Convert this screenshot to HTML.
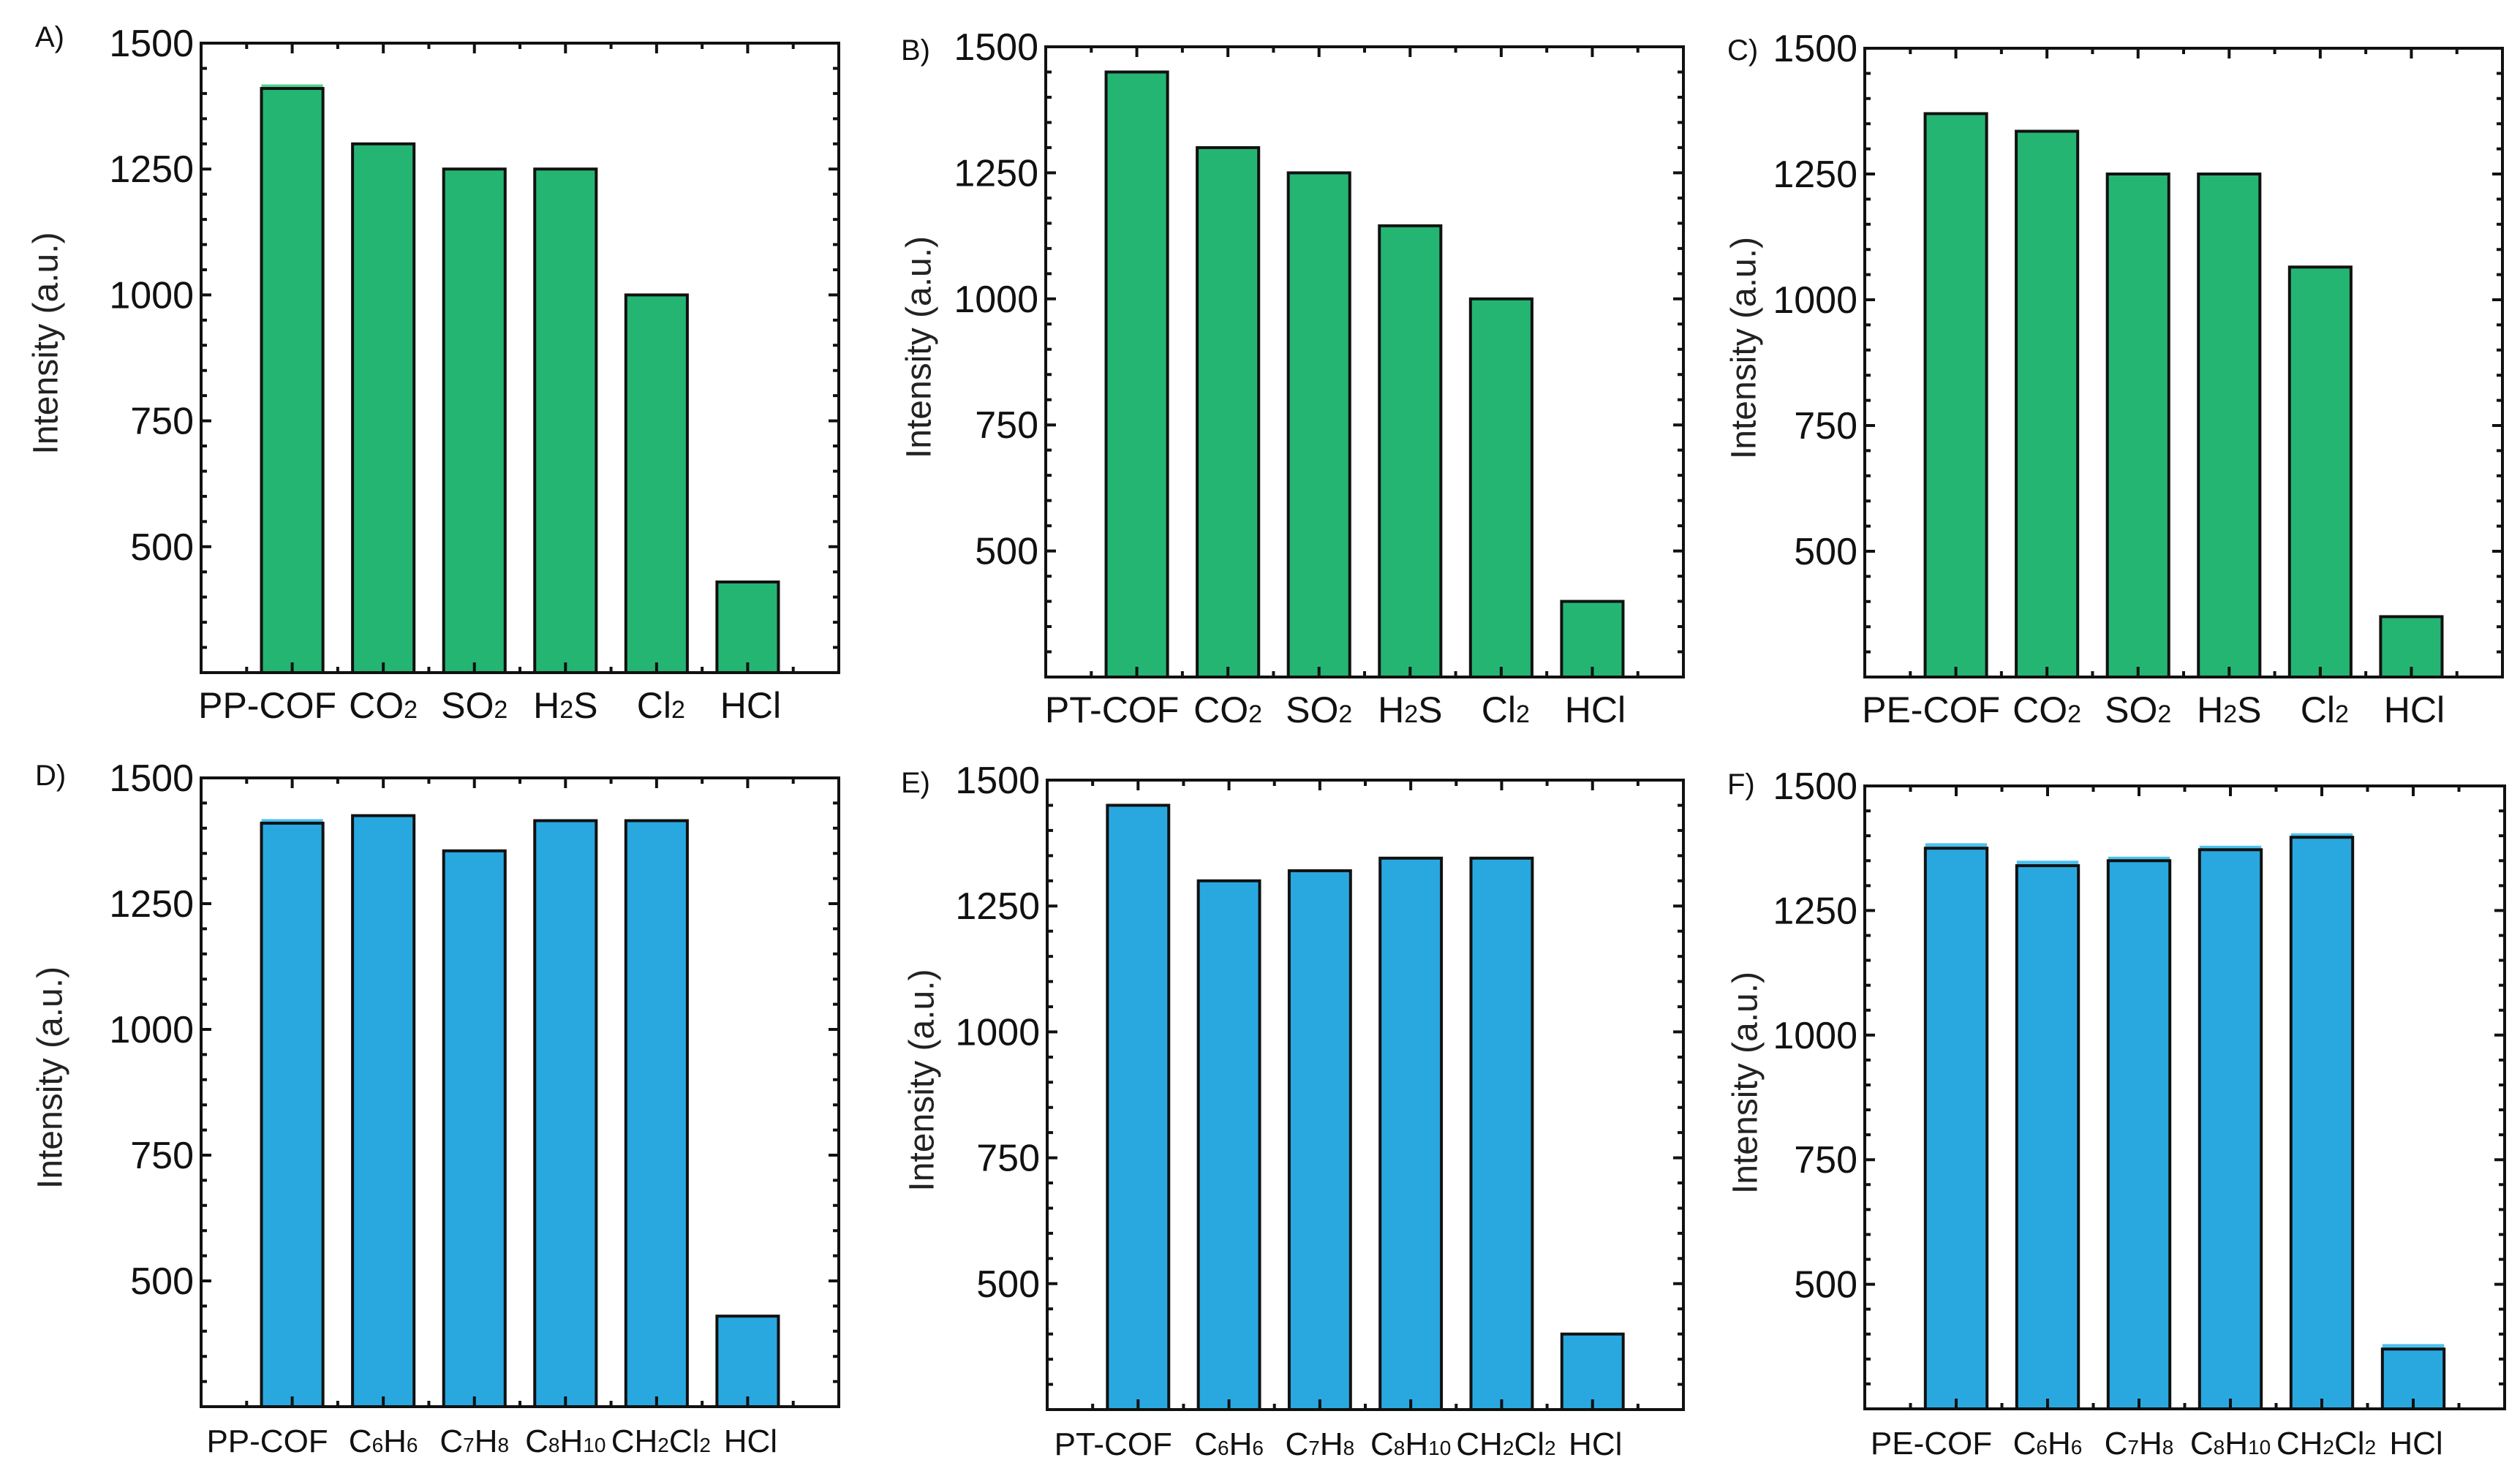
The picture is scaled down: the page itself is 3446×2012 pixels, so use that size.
<!DOCTYPE html>
<html><head><meta charset="utf-8"><style>
html,body{margin:0;padding:0;background:#fff;}
svg{display:block;font-family:"Liberation Sans",Arial,sans-serif;}
</style></head><body>
<svg id="fig" width="3446" height="2012" viewBox="0 0 3446 2012" xmlns="http://www.w3.org/2000/svg"></svg>
<script>
const catsA=["PP-COF","CO_2","SO_2","H_2S","Cl_2","HCl"];
const valsA=[1410,1300,1250,1250,1000,430];
const capA=[1418,null,null,null,null,null];
const catsB=["PT-COF","CO_2","SO_2","H_2S","Cl_2","HCl"];
const valsB=[1450,1300,1250,1145,1000,400];
const capB=[null,null,null,null,null,null];
const catsC=["PE-COF","CO_2","SO_2","H_2S","Cl_2","HCl"];
const valsC=[1370,1335,1250,1250,1065,370];
const capC=[null,null,null,null,null,null];
const catsD=["PP-COF","C_6H_6","C_7H_8","C_8H_1_0","CH_2Cl_2","HCl"];
const valsD=[1410,1425,1355,1415,1415,430];
const capD=[1418,null,null,null,null,null];
const catsE=["PT-COF","C_6H_6","C_7H_8","C_8H_1_0","CH_2Cl_2","HCl"];
const valsE=[1450,1300,1320,1345,1345,400];
const capE=[null,null,null,null,null,null];
const catsF=["PE-COF","C_6H_6","C_7H_8","C_8H_1_0","CH_2Cl_2","HCl"];
const valsF=[1375,1340,1350,1372,1397,370];
const capF=[1385,1350,1358,1380,1405,380];
const yTicks=[500,750,1000,1250,1500];
const yMin=250, yMax=1500;

const NS="http://www.w3.org/2000/svg";
const svg=document.getElementById('fig');
function mk(tag,attrs,parent){const e=document.createElementNS(NS,tag);for(const k in attrs)e.setAttribute(k,attrs[k]);(parent||svg).appendChild(e);return e;}
function setLabel(t,s,sub){
  let i=0;
  while(i<s.length){
    if(s[i]==='_'){const ts=mk('tspan',{'font-size':sub},t);ts.textContent=s[i+1];i+=2;}
    else{let j=i;while(j<s.length&&s[j]!=='_')j++;const ts=mk('tspan',{},t);ts.textContent=s.slice(i,j);i=j;}
  }
}
const labShift=[-34,0,0,0,6,4];
const panels=[
 {id:'a',letter:'A)',lx:48,ly:64,L:275,R:1147,T:59,B:920,tx:66,cats:catsA,vals:valsA,cap:capA,fill:'#25b573',capc:'#4fd08f',fs:50,sub:34},
 {id:'b',letter:'B)',lx:1232,ly:82,L:1430,R:2302,T:64,B:926,tx:1260,cats:catsB,vals:valsB,cap:capB,fill:'#25b573',capc:'#4fd08f',fs:50,sub:34},
 {id:'c',letter:'C)',lx:2362,ly:82,L:2550,R:3422,T:66,B:926,tx:2388,cats:catsC,vals:valsC,cap:capC,fill:'#25b573',capc:'#4fd08f',fs:50,sub:34},
 {id:'d',letter:'D)',lx:48,ly:1074,L:275,R:1147,T:1064,B:1924,tx:72,cats:catsD,vals:valsD,cap:capD,fill:'#29a8e0',capc:'#4cc0ee',fs:44,sub:28},
 {id:'e',letter:'E)',lx:1232,ly:1084,L:1432,R:2302,T:1067,B:1928,tx:1264,cats:catsE,vals:valsE,cap:capE,fill:'#29a8e0',capc:'#4cc0ee',fs:44,sub:28},
 {id:'f',letter:'F)',lx:2362,ly:1086,L:2550,R:3425,T:1075,B:1927,tx:2390,cats:catsF,vals:valsF,cap:capF,fill:'#29a8e0',capc:'#4cc0ee',fs:44,sub:28}
];
panels.forEach(p=>{
  const g=mk('g',{});
  
  
  const xs=v=>p.L+(p.R-p.L)*v/7;
  const ys=v=>p.B-(p.B-p.T)*(v-yMin)/(yMax-yMin);
  const bw=(p.R-p.L)/7*0.675;
  const lt=mk('text',{x:p.lx,y:p.ly,'font-size':'40',fill:'#111'},g);
  
  
  lt.textContent=p.letter;
  p.vals.forEach((v,i)=>{
    const cx=xs(i+1);
    if(p.cap[i]!=null){
      const c=mk('rect',{x:cx-bw/2,y:ys(p.cap[i]),width:bw,height:p.B-ys(p.cap[i]),fill:p.capc},g);
      
      
    }
    const r=mk('rect',{x:cx-bw/2,y:ys(v),width:bw,height:p.B-ys(v),fill:p.fill,stroke:'#111','stroke-width':'4'},g);
    
    
    const t=mk('text',{x:cx+labShift[i],y:p.B+62,'text-anchor':'middle','font-size':p.fs,fill:'#111'},g);
    
    
    setLabel(t,p.cats[i],p.sub);
  });
  let d='';
  for(let k=1;k<=6;k++){const x=xs(k);d+=`M${x} ${p.B}v-14M${x} ${p.T}v14`;}
  for(let k=0;k<7;k++){const x=xs(k+0.5);d+=`M${x} ${p.B}v-8M${x} ${p.T}v8`;}
  for(let v=300;v<1500;v+=50){const y=ys(v);const L=(v%250===0)?14:8;d+=`M${p.L} ${y}h${L}M${p.R} ${y}h-${L}`;}
  mk('path',{d:d,stroke:'#111','stroke-width':'4',fill:'none'},g);
  yTicks.forEach(v=>{
    const t=mk('text',{x:p.L-10,y:ys(v)+18,'text-anchor':'end','font-size':'52',fill:'#111'},g);
    
    
    t.textContent=v;
  });
  const fr=mk('rect',{x:p.L,y:p.T,width:p.R-p.L,height:p.B-p.T,fill:'none',stroke:'#111','stroke-width':'4'},g);
  
  
  const cy=(p.T+p.B)/2-20;
  const yt=mk('text',{x:p.tx,y:cy,'text-anchor':'middle','font-size':'48',fill:'#222',transform:`rotate(-90 ${p.tx} ${cy})`,'dominant-baseline':'middle'},g);
  
  
  yt.textContent='Intensity (a.u.)';
});
</script>
</body></html>
